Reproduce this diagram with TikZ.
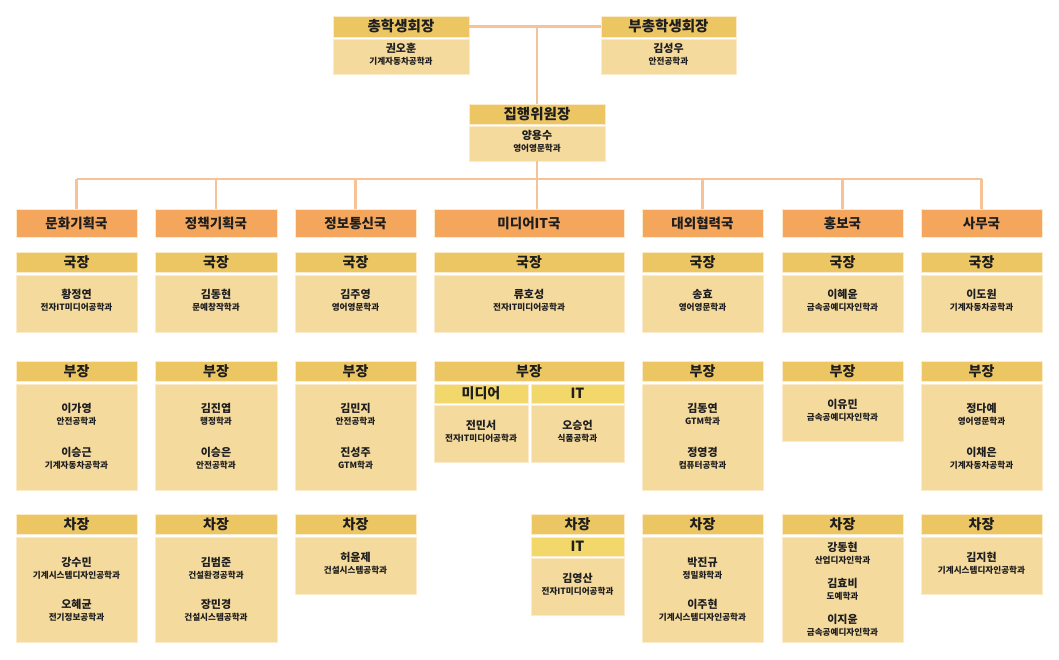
\documentclass[tikz,border=0pt]{standalone}
\usepackage{fontspec}
\setmainfont{Noto Sans CJK KR}
\definecolor{cOrange}{HTML}{F4A65C}
\definecolor{cGold}{HTML}{EDC664}
\definecolor{cYellow}{HTML}{F2D86A}
\definecolor{cBody}{HTML}{F5DA9E}
\definecolor{cLine}{HTML}{F6C296}
\definecolor{boxline}{HTML}{FBEBCB}
\definecolor{txt}{HTML}{1E1E1E}
\newcommand{\pn}[2]{{\fontsize{11}{11.5}\selectfont #1}\\#2}
\begin{document}
\begin{tikzpicture}[x=1pt,y=-1pt,
  every node/.style={inner sep=0pt, outer sep=0pt, text=txt},
  box/.style={draw=boxline, line width=0.6pt, anchor=north west},
  depth/.style={box, fill=cOrange, font=\bfseries\fontsize{13.5}{14}\selectfont},
  role/.style={box, fill=cGold, font=\bfseries\fontsize{14}{15}\selectfont},
  subr/.style={box, fill=cYellow, font=\bfseries\fontsize{14}{15}\selectfont},
  body/.style={box, fill=cBody},
  person/.style={align=center, font=\bfseries\fontsize{8.6}{11.8}\selectfont},
  link/.style={draw=cLine, line width=2.5pt}]
\fill[white] (0,0) rectangle (1059,660);
\useasboundingbox (0,0) rectangle (1059,660);

% ---------- top ----------
\node[role, font=\bfseries\fontsize{14.5}{15}\selectfont, minimum width=136pt, minimum height=21pt] (presh) at (333,16) {총학생회장};
\node[body, minimum width=136pt, minimum height=35pt] (presb) at (333,39) {};
\node[person] (presp) at ([yshift=2pt]presb.center) {\pn{권오훈}{기계자동차공학과}};

\node[role, font=\bfseries\fontsize{14.5}{15}\selectfont, minimum width=135pt, minimum height=21pt] (vph) at (601,16) {부총학생회장};
\node[body, minimum width=135pt, minimum height=35pt] (vpb) at (601,39) {};
\node[person] (vpp) at ([yshift=2pt]vpb.center) {\pn{김성우}{안전공학과}};

\node[role, font=\bfseries\fontsize{14.5}{15}\selectfont, minimum width=136pt, minimum height=20pt] (exh) at (469,104) {집행위원장};
\node[body, minimum width=136pt, minimum height=35pt] (exb) at (469,126) {};
\node[person] (exp) at ([yshift=2pt]exb.center) {\pn{양용수}{영어영문학과}};

% ---------- departments ----------
\node[depth, minimum width=121pt, minimum height=28pt] (d1) at (16,209) {문화기획국};
\node[depth, minimum width=122pt, minimum height=28pt] (d2) at (155,209) {정책기획국};
\node[depth, minimum width=121pt, minimum height=28pt] (d3) at (295,209) {정보통신국};
\node[depth, minimum width=190pt, minimum height=28pt] (d4) at (434,209) {미디어IT국};
\node[depth, minimum width=121pt, minimum height=28pt] (d5) at (642,209) {대외협력국};
\node[depth, minimum width=121pt, minimum height=28pt] (d6) at (782,209) {홍보국};
\node[depth, minimum width=121pt, minimum height=28pt] (d7) at (921,209) {사무국};

% ---------- 국장 ----------
\node[role, minimum width=121pt, minimum height=20pt] (g1h) at (16,252) {국장};
\node[body, minimum width=121pt, minimum height=57pt] (g1b) at (16,275) {};
\node[person] (g1p) at ([yshift=3pt]g1b.center) {\pn{황정연}{전자IT미디어공학과}};

\node[role, minimum width=122pt, minimum height=20pt] (g2h) at (155,252) {국장};
\node[body, minimum width=122pt, minimum height=57pt] (g2b) at (155,275) {};
\node[person] (g2p) at ([yshift=3pt]g2b.center) {\pn{김동현}{문예창작학과}};

\node[role, minimum width=121pt, minimum height=20pt] (g3h) at (295,252) {국장};
\node[body, minimum width=121pt, minimum height=57pt] (g3b) at (295,275) {};
\node[person] (g3p) at ([yshift=3pt]g3b.center) {\pn{김주영}{영어영문학과}};

\node[role, minimum width=190pt, minimum height=20pt] (g4h) at (434,252) {국장};
\node[body, minimum width=190pt, minimum height=57pt] (g4b) at (434,275) {};
\node[person] (g4p) at ([yshift=3pt]g4b.center) {\pn{류호성}{전자IT미디어공학과}};

\node[role, minimum width=121pt, minimum height=20pt] (g5h) at (642,252) {국장};
\node[body, minimum width=121pt, minimum height=57pt] (g5b) at (642,275) {};
\node[person] (g5p) at ([yshift=3pt]g5b.center) {\pn{송효}{영어영문학과}};

\node[role, minimum width=121pt, minimum height=20pt] (g6h) at (782,252) {국장};
\node[body, minimum width=121pt, minimum height=57pt] (g6b) at (782,275) {};
\node[person] (g6p) at ([yshift=3pt]g6b.center) {\pn{이혜윤}{금속공예디자인학과}};

\node[role, minimum width=121pt, minimum height=20pt] (g7h) at (921,252) {국장};
\node[body, minimum width=121pt, minimum height=57pt] (g7b) at (921,275) {};
\node[person] (g7p) at ([yshift=3pt]g7b.center) {\pn{이도원}{기계자동차공학과}};

% ---------- 부장 ----------
\node[role, minimum width=121pt, minimum height=20pt] (b1h) at (16,361) {부장};
\node[body, minimum width=121pt, minimum height=106pt] (b1b) at (16,384) {};
\node[person] (b1p1) at ([yshift=23pt]b1b.center) {\pn{이가영}{안전공학과}};
\node[person] (b1p2) at ([yshift=-21pt]b1b.center) {\pn{이승근}{기계자동차공학과}};

\node[role, minimum width=122pt, minimum height=20pt] (b2h) at (155,361) {부장};
\node[body, minimum width=122pt, minimum height=106pt] (b2b) at (155,384) {};
\node[person] (b2p1) at ([yshift=23pt]b2b.center) {\pn{김진엽}{행정학과}};
\node[person] (b2p2) at ([yshift=-21pt]b2b.center) {\pn{이승은}{안전공학과}};

\node[role, minimum width=121pt, minimum height=20pt] (b3h) at (295,361) {부장};
\node[body, minimum width=121pt, minimum height=106pt] (b3b) at (295,384) {};
\node[person] (b3p1) at ([yshift=23pt]b3b.center) {\pn{김민지}{안전공학과}};
\node[person] (b3p2) at ([yshift=-21pt]b3b.center) {\pn{진성주}{GTM학과}};

\node[role, minimum width=190pt, minimum height=20pt] (b4h) at (434,361) {부장};
\node[subr, minimum width=94pt, minimum height=19pt] (b4m) at (434,384) {미디어};
\node[subr, minimum width=93pt, minimum height=19pt] (b4i) at (531,384) {IT};
\node[body, minimum width=94pt, minimum height=57pt] (b4mb) at (434,405) {};
\node[body, minimum width=93pt, minimum height=57pt] (b4ib) at (531,405) {};
\node[person] (b4mp) at ([yshift=2pt]b4mb.center) {\pn{전민서}{전자IT미디어공학과}};
\node[person] (b4ip) at ([yshift=2pt]b4ib.center) {\pn{오승언}{식품공학과}};

\node[role, minimum width=121pt, minimum height=20pt] (b5h) at (642,361) {부장};
\node[body, minimum width=121pt, minimum height=106pt] (b5b) at (642,384) {};
\node[person] (b5p1) at ([yshift=23pt]b5b.center) {\pn{김동연}{GTM학과}};
\node[person] (b5p2) at ([yshift=-21pt]b5b.center) {\pn{정영경}{컴퓨터공학과}};

\node[role, minimum width=121pt, minimum height=20pt] (b6h) at (782,361) {부장};
\node[body, minimum width=121pt, minimum height=57pt] (b6b) at (782,384) {};
\node[person] (b6p) at ([yshift=2pt]b6b.center) {\pn{이유민}{금속공예디자인학과}};

\node[role, minimum width=121pt, minimum height=20pt] (b7h) at (921,361) {부장};
\node[body, minimum width=121pt, minimum height=106pt] (b7b) at (921,384) {};
\node[person] (b7p1) at ([yshift=23pt]b7b.center) {\pn{정다예}{영어영문학과}};
\node[person] (b7p2) at ([yshift=-21pt]b7b.center) {\pn{이채은}{기계자동차공학과}};

% ---------- 차장 ----------
\node[role, minimum width=121pt, minimum height=20pt] (v1h) at (16,514) {차장};
\node[body, minimum width=121pt, minimum height=105pt] (v1b) at (16,537) {};
\node[person] (v1p1) at ([yshift=21pt]v1b.center) {\pn{강수민}{기계시스템디자인공학과}};
\node[person] (v1p2) at ([yshift=-21pt]v1b.center) {\pn{오혜균}{전기정보공학과}};

\node[role, minimum width=122pt, minimum height=20pt] (v2h) at (155,514) {차장};
\node[body, minimum width=122pt, minimum height=105pt] (v2b) at (155,537) {};
\node[person] (v2p1) at ([yshift=21pt]v2b.center) {\pn{김범준}{건설환경공학과}};
\node[person] (v2p2) at ([yshift=-21pt]v2b.center) {\pn{장민경}{건설시스템공학과}};

\node[role, minimum width=121pt, minimum height=20pt] (v3h) at (295,514) {차장};
\node[body, minimum width=121pt, minimum height=57pt] (v3b) at (295,537) {};
\node[person] (v3p) at ([yshift=2pt]v3b.center) {\pn{허윤제}{건설시스템공학과}};

\node[role, minimum width=93pt, minimum height=20pt] (v4h) at (531,514) {차장};
\node[subr, minimum width=93pt, minimum height=19pt] (v4i) at (531,537) {IT};
\node[body, minimum width=93pt, minimum height=57pt] (v4b) at (531,558) {};
\node[person] (v4p) at ([yshift=2pt]v4b.center) {\pn{김영산}{전자IT미디어공학과}};

\node[role, minimum width=121pt, minimum height=20pt] (v5h) at (642,514) {차장};
\node[body, minimum width=121pt, minimum height=105pt] (v5b) at (642,537) {};
\node[person] (v5p1) at ([yshift=21pt]v5b.center) {\pn{박진규}{정밀화학과}};
\node[person] (v5p2) at ([yshift=-21pt]v5b.center) {\pn{이주현}{기계시스템디자인공학과}};

\node[role, minimum width=121pt, minimum height=20pt] (v6h) at (782,514) {차장};
\node[body, minimum width=121pt, minimum height=105pt] (v6b) at (782,537) {};
\node[person] (v6p1) at ([yshift=36pt]v6b.center) {\pn{강동현}{산업디자인학과}};
\node[person] (v6p2) at ([yshift=0pt]v6b.center) {\pn{김효비}{도예학과}};
\node[person] (v6p3) at ([yshift=-36pt]v6b.center) {\pn{이지윤}{금속공예디자인학과}};

\node[role, minimum width=121pt, minimum height=20pt] (v7h) at (921,514) {차장};
\node[body, minimum width=121pt, minimum height=57pt] (v7b) at (921,537) {};
\node[person] (v7p) at ([yshift=2pt]v7b.center) {\pn{김지현}{기계시스템디자인공학과}};

% ---------- connectors ----------
\coordinate (bus) at (0,179);
\draw[link] (presh.east) -- (vph.west);
\draw[link] (presh.east -| exh.north) -- (exh.north);
\draw[link] (exb.south) -- (exb.south |- bus);
\draw[link] (d1.north |- bus) -- (d7.north |- bus);
\foreach \d in {d1,d2,d3,d5,d6,d7}{
  \draw[link] (\d.north |- bus) -- (\d.north);
}
\draw[link] (exb.south |- bus) -- (exb.south |- d4.north);
\end{tikzpicture}
\end{document}
